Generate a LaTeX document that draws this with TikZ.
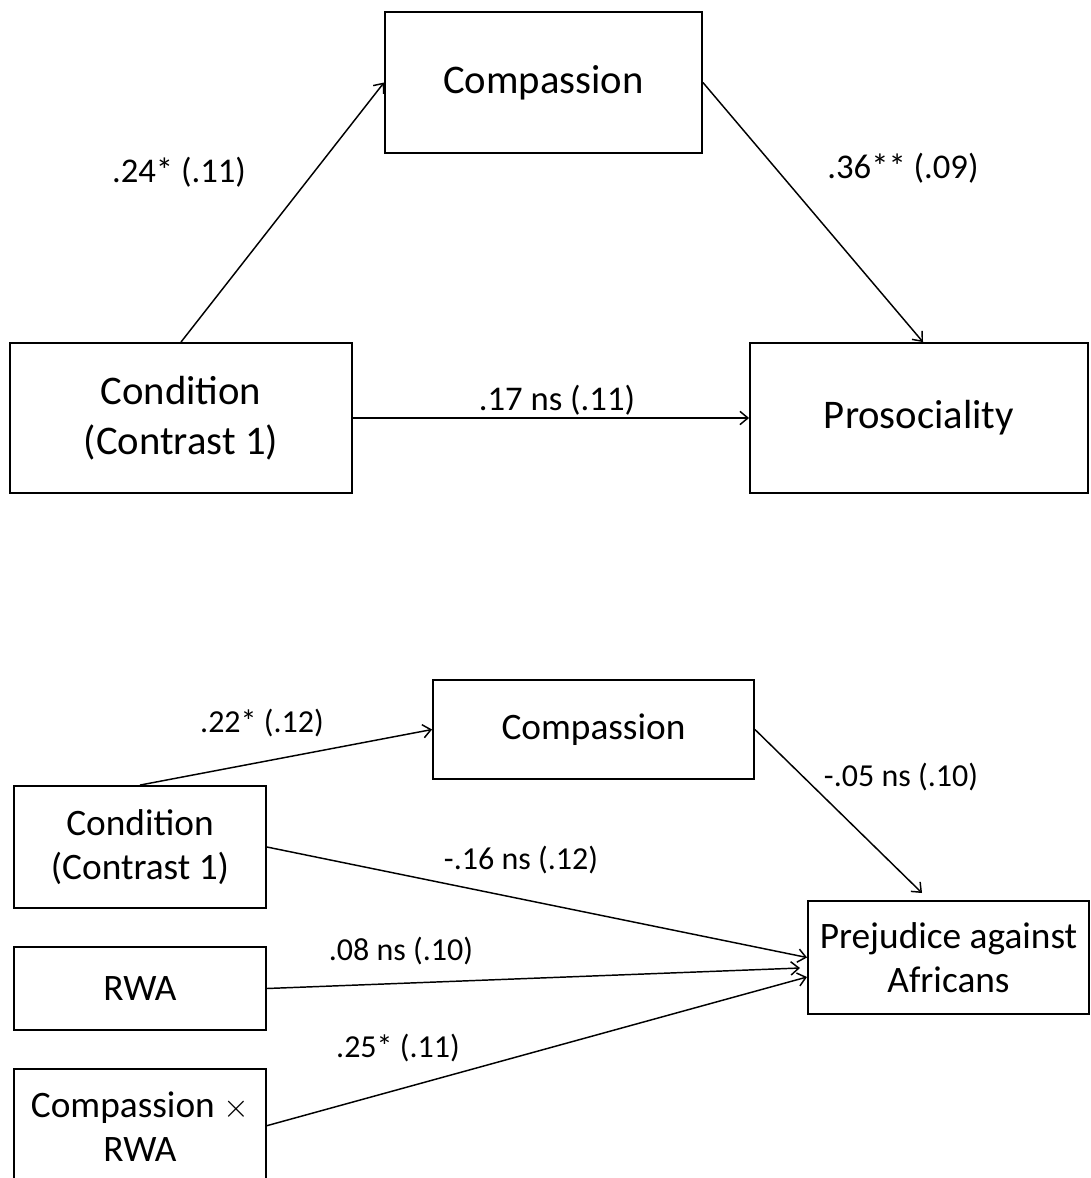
\documentclass[tikz,border=0pt]{standalone}
\usepackage{fontspec}
\setmainfont{Carlito}
\usetikzlibrary{arrows.meta, positioning, calc}

\begin{document}
\begin{tikzpicture}[x=0.75pt, y=-0.75pt,
    >={Straight Barb[length=6pt,width=10pt]},
    box/.style={draw, line width=1.4pt, inner sep=0pt, align=center},
    bigbox/.style={box, font=\fontsize{30.5}{37.5}\selectfont},
    smallbox/.style={box, font=\fontsize{28}{33}\selectfont},
    path/.style={->, line width=1.1pt},
    biglabel/.style={font=\fontsize{26}{30}\selectfont},
    smalllabel/.style={font=\fontsize{24}{28}\selectfont}]
  \useasboundingbox (0,0) rectangle (1090,1178);
  % mediation model
  \node[bigbox, minimum width=237.75pt, minimum height=105.75pt] (C1) at (543.5,82.5) {Compassion};
  \node[bigbox, minimum width=256.5pt, minimum height=112.5pt] (X1) at (181,418) {Condition\\(Contrast 1)};
  \node[bigbox, minimum width=253.5pt, minimum height=112.5pt] (P1) at (919,418) {Prosociality};
  \draw[path] (X1.north) -- (C1.west);
  \draw[path] (C1.east) -- ([xshift=3pt]P1.north);
  \draw[path] (X1.east) -- (P1.west);
  \node[biglabel] (a1) at (179,172) {.24* (.11)};
  \node[biglabel] (b1) at (903,168) {.36** (.09)};
  \node[biglabel] (c1) at (557,400) {.17 ns (.11)};
  % moderated model
  \node[smallbox, minimum width=240.75pt, minimum height=74.25pt] (C2) at (593.5,729.5) {Compassion};
  \node[smallbox, minimum width=189pt, minimum height=91.5pt] (X2) at (140,847) {Condition\\(Contrast 1)};
  \node[smallbox, minimum width=189pt, minimum height=62.25pt] (R2) at (140,988.5) {RWA};
  \node[smallbox, minimum width=189pt, minimum height=87pt] (M2) at (140,1127) {Compassion $\times$\\RWA};
  \node[smallbox, minimum width=210.75pt, minimum height=84.75pt] (Q2) at (948.5,957.5) {Prejudice against\\Africans};
  \coordinate (q2top) at (922,893);
  \coordinate (q2mid) at (800,968);
  \coordinate (q2low) at (807,977);
  \draw[path] (X2.north) -- (C2.west);
  \draw[path] (C2.east) -- (q2top);
  \draw[path] (X2.east) -- (Q2.west);
  \draw[path] (R2.east) -- (q2mid);
  \draw[path] ([yshift=1pt]M2.east) -- (q2low);
  \node[smalllabel] (a2) at (262,723) {.22* (.12)};
  \node[smalllabel] (b2) at (901,777) {-.05 ns (.10)};
  \node[smalllabel] (c2) at (521,860) {-.16 ns (.12)};
  \node[smalllabel] (d2) at (401,951) {.08 ns (.10)};
  \node[smalllabel] (e2) at (398,1048) {.25* (.11)};
\end{tikzpicture}
\end{document}
